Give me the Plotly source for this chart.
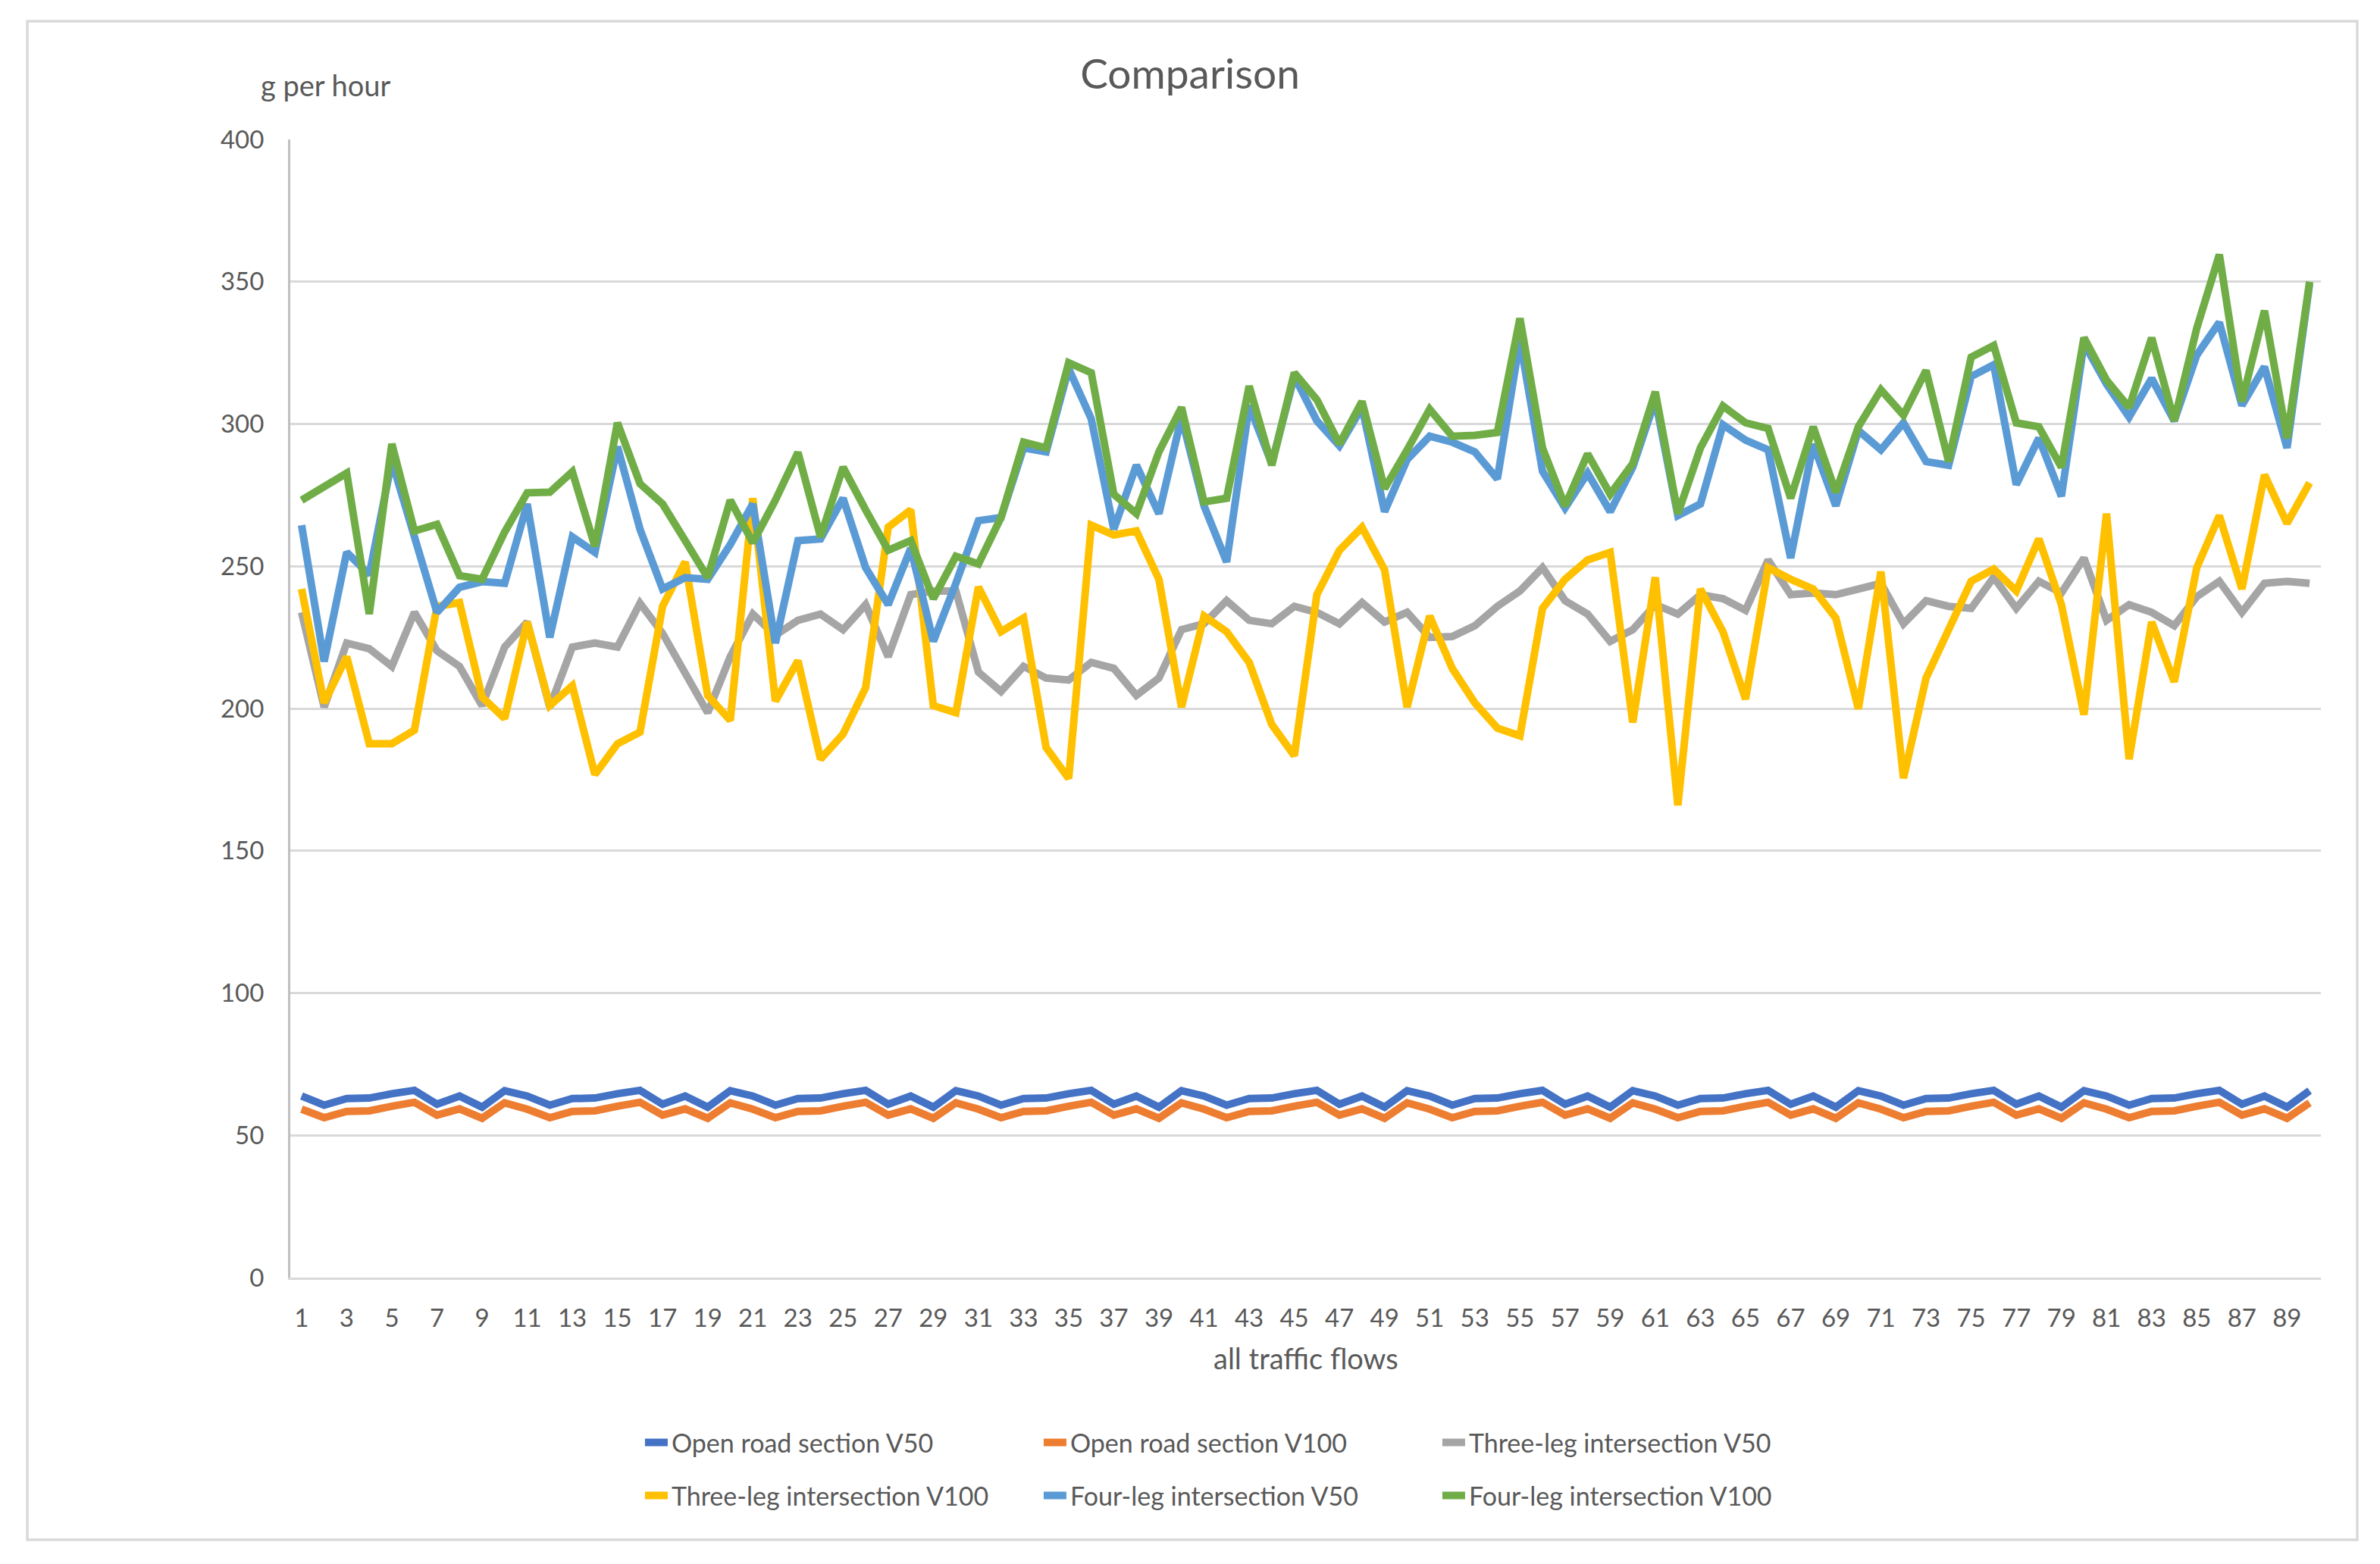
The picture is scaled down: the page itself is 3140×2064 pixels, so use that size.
import plotly.graph_objects as go

flows = list(range(1, 91))
tick_vals = list(range(1, 90, 2))
tick_text = [str(v) for v in tick_vals]
y_ticks = [0, 50, 100, 150, 200, 250, 300, 350, 400]

series_names = [
    "Open road section V50",
    "Open road section V100",
    "Three-leg intersection V50",
    "Three-leg intersection V100",
    "Four-leg intersection V50",
    "Four-leg intersection V100",
]
series_colors = ["#4472C4", "#ED7D31", "#A5A5A5", "#FFC000", "#5B9BD5", "#70AD47"]

open_v50 = [
    63.8, 60.6, 62.9, 63.1, 64.6, 65.8, 60.9, 63.8, 59.9, 65.7,
    63.8, 60.6, 62.9, 63.1, 64.6, 65.8, 60.9, 63.8, 59.9, 65.7,
    63.8, 60.6, 62.9, 63.1, 64.6, 65.8, 60.9, 63.8, 59.9, 65.7,
    63.8, 60.6, 62.9, 63.1, 64.6, 65.8, 60.9, 63.8, 59.9, 65.7,
    63.8, 60.6, 62.9, 63.1, 64.6, 65.8, 60.9, 63.8, 59.9, 65.7,
    63.8, 60.6, 62.9, 63.1, 64.6, 65.8, 60.9, 63.8, 59.9, 65.7,
    63.8, 60.6, 62.9, 63.1, 64.6, 65.8, 60.9, 63.8, 59.9, 65.7,
    63.8, 60.6, 62.9, 63.1, 64.6, 65.8, 60.9, 63.8, 59.9, 65.7,
    63.8, 60.6, 62.9, 63.1, 64.6, 65.8, 60.9, 63.8, 59.9, 65.7,
]
open_v100 = [
    59.2, 56.2, 58.4, 58.6, 60.2, 61.6, 57.1, 59.3, 56.0, 61.4,
    59.2, 56.2, 58.4, 58.6, 60.2, 61.6, 57.1, 59.3, 56.0, 61.4,
    59.2, 56.2, 58.4, 58.6, 60.2, 61.6, 57.1, 59.3, 56.0, 61.4,
    59.2, 56.2, 58.4, 58.6, 60.2, 61.6, 57.1, 59.3, 56.0, 61.4,
    59.2, 56.2, 58.4, 58.6, 60.2, 61.6, 57.1, 59.3, 56.0, 61.4,
    59.2, 56.2, 58.4, 58.6, 60.2, 61.6, 57.1, 59.3, 56.0, 61.4,
    59.2, 56.2, 58.4, 58.6, 60.2, 61.6, 57.1, 59.3, 56.0, 61.4,
    59.2, 56.2, 58.4, 58.6, 60.2, 61.6, 57.1, 59.3, 56.0, 61.4,
    59.2, 56.2, 58.4, 58.6, 60.2, 61.6, 57.1, 59.3, 56.0, 61.4,
]
three_v50 = [
    233.8, 200.5, 223.0, 221.0, 214.8, 233.8, 220.3, 214.8, 201.0, 221.6,
    230.4, 200.5, 221.6, 223.0, 221.6, 237.0, 226.4, 212.8, 198.5, 218.2,
    233.2, 225.7, 231.0, 233.2, 227.7, 236.5, 218.2, 240.0, 241.3, 241.3,
    212.8, 206.0, 214.8, 210.7, 210.0, 216.2, 214.1, 204.6, 210.7, 227.7,
    229.8, 237.9, 231.0, 229.8, 235.9, 233.8, 229.8, 237.2, 230.4, 233.8,
    225.0, 225.3, 229.1, 235.9, 241.3, 249.5, 237.9, 233.2, 223.6, 227.7,
    236.5, 233.2, 240.0, 238.6, 234.5, 252.2, 240.0, 240.6, 240.0, 242.0,
    244.0, 229.8, 237.9, 235.9, 235.2, 246.1, 235.2, 244.7, 240.6, 252.9,
    231.0, 236.5, 233.8, 229.1, 239.3, 244.7, 233.8, 244.0, 244.7, 244.0,
]
three_v100 = [
    242.0, 202.0, 218.2, 187.6, 187.6, 192.4, 235.9, 237.2, 204.0, 196.5,
    230.4, 201.0, 208.0, 176.8, 187.6, 191.7, 235.9, 251.5, 204.6, 195.8,
    273.9, 202.6, 216.8, 182.2, 191.0, 207.3, 263.7, 269.8, 201.0, 198.5,
    242.7, 227.0, 231.8, 186.3, 175.4, 264.4, 261.0, 262.4, 245.4, 200.5,
    232.5, 227.0, 216.2, 194.4, 183.4, 240.0, 255.6, 263.7, 248.8, 200.5,
    232.5, 214.1, 202.0, 193.1, 190.4, 235.2, 245.4, 252.2, 254.9, 195.1,
    246.1, 166.0, 242.0, 227.0, 203.3, 249.5, 245.4, 242.0, 231.8, 199.9,
    248.1, 175.5, 210.7, 227.7, 244.7, 249.0, 241.3, 259.6, 236.5, 197.8,
    268.5, 182.2, 230.4, 209.4, 249.5, 267.8, 242.0, 282.1, 265.1, 279.3,
]
four_v50 = [
    264.4, 216.5, 254.9, 247.0, 287.0, 260.0, 233.8, 242.6, 244.6, 244.0,
    271.9, 225.0, 260.3, 254.9, 292.0, 263.0, 242.0, 246.0, 245.4, 257.6,
    271.9, 223.0, 259.0, 259.6, 273.9, 249.5, 236.5, 256.3, 223.6, 244.0,
    266.0, 267.1, 291.6, 290.2, 319.4, 301.8, 263.0, 285.5, 268.5, 302.4,
    271.2, 251.5, 306.5, 286.1, 316.7, 301.1, 292.3, 305.8, 269.2, 287.5,
    295.7, 293.6, 290.2, 280.7, 329.6, 283.4, 270.5, 282.7, 269.2, 284.8,
    308.5, 267.8, 271.9, 299.7, 294.3, 290.9, 252.9, 292.9, 271.2, 297.7,
    290.9, 300.4, 286.8, 285.5, 316.7, 320.8, 278.7, 295.0, 274.6, 328.3,
    314.0, 302.4, 316.0, 301.1, 324.2, 335.7, 306.5, 320.1, 291.6, 349.3,
]
four_v100 = [
    273.2, 278.3, 282.7, 233.2, 293.0, 262.4, 264.7, 246.7, 245.4, 262.0,
    275.8, 276.0, 283.2, 257.0, 300.4, 279.0, 271.9, 259.0, 246.0, 273.2,
    258.3, 273.2, 290.0, 260.3, 284.8, 269.8, 255.6, 259.0, 238.6, 253.5,
    250.8, 267.1, 293.6, 291.6, 321.5, 318.0, 275.3, 268.5, 290.2, 305.8,
    272.6, 273.9, 313.3, 285.5, 318.0, 308.5, 293.0, 307.9, 277.3, 290.9,
    305.2, 295.7, 296.0, 297.0, 337.1, 291.6, 271.2, 289.5, 275.3, 286.1,
    311.3, 268.5, 291.6, 306.3, 300.4, 298.4, 273.9, 299.0, 276.0, 299.0,
    312.0, 303.1, 318.8, 286.8, 323.5, 327.6, 300.4, 299.0, 284.8, 330.3,
    315.4, 305.8, 330.3, 301.1, 333.7, 359.5, 307.9, 339.8, 295.0, 350.0,
]

series_values = [open_v50, open_v100, three_v50, three_v100, four_v50, four_v100]

TEXT = "#595959"
FONT = "Lato"

fig = go.Figure()
for i, (name, color, vals) in enumerate(zip(series_names, series_colors, series_values)):
    fig.add_trace(go.Scatter(
        x=flows, y=vals, name=name, mode="lines",
        line=dict(color=color, width=10),
        legend="legend" if i < 3 else "legend2",
    ))

legend_common = dict(
    orientation="h", xref="paper", yref="paper",
    x=0.1728, xanchor="left", yanchor="middle",
    font=dict(family=FONT, size=34, color=TEXT),
    entrywidth=481, entrywidthmode="pixels",
    bgcolor="rgba(0,0,0,0)", itemwidth=30,
)

fig.update_layout(
    width=3140, height=2064,
    paper_bgcolor="white", plot_bgcolor="white",
    margin=dict(l=383, r=78, t=184, b=378, autoexpand=False),
    font=dict(family=FONT, size=33, color=TEXT),
    title=dict(text="Comparison", x=0.5, xanchor="center", xref="container",
               y=1 - 98 / 2064, yref="container", yanchor="middle",
               font=dict(family=FONT, size=55, color=TEXT)),
    showlegend=True,
    legend=dict(y=-0.1451, **legend_common),
    legend2=dict(y=-0.1917, **legend_common),
    xaxis=dict(
        range=[0.5, 90.5], tickmode="array", tickvals=tick_vals, ticktext=tick_text,
        showgrid=False, zeroline=False, showline=True, linecolor="#D9D9D9", linewidth=3,
        ticks="", tickfont=dict(family=FONT, size=33, color=TEXT), ticklabelstandoff=22,
    ),
    yaxis=dict(
        range=[0, 400], tickmode="array", tickvals=y_ticks,
        showgrid=True, gridcolor="#D9D9D9", gridwidth=3, zeroline=False,
        showline=True, linecolor="#BFBFBF", linewidth=3,
        ticks="", tickfont=dict(family=FONT, size=33, color=TEXT), ticklabelstandoff=25,
    ),
    annotations=[
        dict(text="all traffic flows", xref="paper", yref="paper", x=0.5, y=-0.0706,
             xanchor="center", yanchor="middle", showarrow=False,
             font=dict(family=FONT, size=38, color=TEXT)),
        dict(text="g per hour", xref="paper", yref="paper", x=0.01754, y=1.0479,
             xanchor="center", yanchor="middle", showarrow=False,
             font=dict(family=FONT, size=38, color=TEXT)),
    ],
    shapes=[
        dict(type="rect", xref="paper", yref="paper", x0=-0.1295, x1=1.0179,
             y0=-0.2304, y1=1.1039, line=dict(color="#D9D9D9", width=3.5),
             fillcolor="rgba(0,0,0,0)", layer="below"),
    ],
)

fig.write_html(
    "out.html",
    config={"displayModeBar": False},
    post_script="document.body.style.margin='0px';document.body.style.overflow='hidden';",
)
